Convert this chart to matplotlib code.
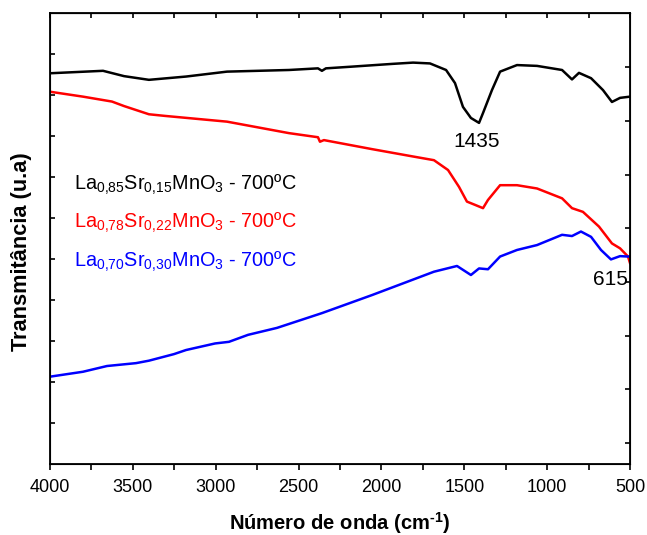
import matplotlib
matplotlib.use("Agg")
import matplotlib.pyplot as plt
from matplotlib.ticker import MultipleLocator, NullFormatter

plt.rcParams['font.family'] = ['Liberation Sans', 'DejaVu Sans']
plt.rcParams['mathtext.fontset'] = 'custom'
plt.rcParams['mathtext.rm'] = 'Liberation Sans'
plt.rcParams['mathtext.it'] = 'Liberation Sans:italic'
plt.rcParams['mathtext.bf'] = 'Liberation Sans:bold'

# ---- data (wavenumber cm^-1, transmittance a.u.) ----
wn_085 = [4000, 3680, 3553, 3403, 3179, 2932, 2558, 2383, 2359, 2335, 2184, 1930, 1809,
          1707, 1610, 1556, 1508, 1460, 1411, 1387, 1333, 1284, 1182, 1061, 910, 850, 808,
          735, 663, 609, 560, 500]
t_085 = [9.53, 9.59, 9.46, 9.37, 9.45, 9.57, 9.61, 9.65, 9.59, 9.65, 9.69, 9.76, 9.79,
         9.77, 9.61, 9.29, 8.71, 8.44, 8.32, 8.56, 9.12, 9.57, 9.73, 9.71, 9.61, 9.38, 9.54,
         9.41, 9.12, 8.83, 8.93, 8.96]

wn_078 = [4000, 3801, 3626, 3553, 3403, 3306, 2932, 2558, 2383, 2371, 2347, 2057, 1809,
          1683, 1598, 1532, 1484, 1435, 1387, 1357, 1284, 1182, 1061, 910, 850, 784, 687,
          609, 560, 512, 500]
t_078 = [9.08, 8.96, 8.84, 8.73, 8.53, 8.49, 8.35, 8.07, 7.97, 7.86, 7.90, 7.68, 7.50,
         7.41, 7.17, 6.76, 6.40, 6.32, 6.24, 6.44, 6.80, 6.80, 6.72, 6.48, 6.24, 6.15, 5.79,
         5.38, 5.26, 5.06, 4.90]

wn_070 = [4000, 3801, 3656, 3481, 3403, 3252, 3179, 3004, 2920, 2805, 2630, 2359, 2057,
          1683, 1544, 1460, 1411, 1357, 1284, 1182, 1061, 910, 850, 796, 735, 675, 615,
          560, 512, 500]
t_070 = [2.13, 2.25, 2.39, 2.46, 2.52, 2.68, 2.78, 2.94, 2.98, 3.15, 3.32, 3.68, 4.12,
         4.69, 4.83, 4.61, 4.77, 4.75, 5.06, 5.22, 5.34, 5.59, 5.56, 5.67, 5.54, 5.22, 4.99,
         5.07, 5.06, 5.06]

labels = [r'La$_{0{,}85}$Sr$_{0{,}15}$MnO$_3$ - 700ºC',
          r'La$_{0{,}78}$Sr$_{0{,}22}$MnO$_3$ - 700ºC',
          r'La$_{0{,}70}$Sr$_{0{,}30}$MnO$_3$ - 700ºC']
colors = ['black', '#ff0000', '#0000ff']
peak_labels = ['1435', '615']
peak_pos = [(1423, 7.74), (512, 4.37)]

fig = plt.figure(figsize=(6.47, 5.35), dpi=100)
ax = fig.add_axes([50/647, 71/535, 580/647, 451/535])

for wn, t, c in zip([wn_085, wn_078, wn_070], [t_085, t_078, t_070], colors):
    ax.plot(wn, t, color=c, lw=1.8)

ax.set_xlim(4000, 500)
ax.set_ylim(0, 11)
ax.xaxis.set_major_locator(MultipleLocator(500))
ax.xaxis.set_minor_locator(MultipleLocator(250))
ax.set_yticks(range(1, 11))
ax.yaxis.set_major_formatter(NullFormatter())
ax.tick_params(axis='x', which='both', direction='out', length=4, width=1.2,
               labelsize=13, pad=7, top=False)
ax.tick_params(axis='y', which='both', direction='in', length=3.5, width=1.2, right=False)
for s in ax.spines.values():
    s.set_linewidth(1.3)

# top inward ticks
axt = ax.secondary_xaxis('top')
axt.xaxis.set_major_locator(MultipleLocator(250))
axt.tick_params(direction='in', length=3.5, width=1.2, labelsize=0)
axt.xaxis.set_major_formatter(NullFormatter())

# right inward ticks
axr = ax.twinx()
axr.set_ylim(-0.39, 8.01)
axr.set_yticks(range(0, 8))
axr.yaxis.set_major_formatter(NullFormatter())
axr.tick_params(direction='in', length=3.5, width=1.2)

ax.set_xlabel('Número de onda (cm$^{\\mathbf{\u2010}\\mathbf{1}}$)', fontsize=14.5,
              fontweight='bold', labelpad=10)
ax.set_ylabel('Transmitância (u.a)', fontsize=15.7, fontweight='bold')
ax.yaxis.set_label_coords(-0.031, 0.472)

for lab, c, yy in zip(labels, colors, [0.6075, 0.523, 0.437]):
    ax.text(0.0407, yy, lab, color=c, fontsize=14.3, transform=ax.transAxes,
            ha='left', va='baseline')

ax.text(peak_pos[0][0], peak_pos[0][1], peak_labels[0], fontsize=15, ha='center', va='baseline')
ax.text(peak_pos[1][0], peak_pos[1][1], peak_labels[1], fontsize=15, ha='right', va='baseline')

fig.savefig('out.png', dpi=100)
